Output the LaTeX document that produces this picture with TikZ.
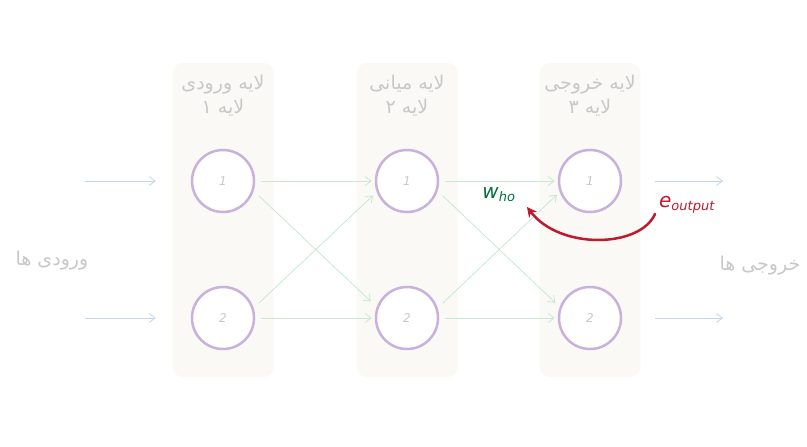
\documentclass[tikz,border=0pt]{standalone}
\usepackage{fontspec}
\newfontfamily\arabicfont[Script=Arabic]{DejaVu Sans}
\setsansfont{DejaVu Sans}
\TeXXeTstate=1
\usetikzlibrary{arrows.meta}
\definecolor{panelc}{RGB}{250,249,245}
\definecolor{circc}{RGB}{200,178,220}
\definecolor{linkc}{RGB}{200,232,212}
\definecolor{inc}{RGB}{190,215,235}
\definecolor{txtc}{RGB}{200,200,200}
\definecolor{redc}{RGB}{190,25,45}
\definecolor{grnc}{RGB}{0,110,60}
\tikzset{
  panel/.style={fill=panelc, draw=none, rounded corners=10pt, minimum width=101pt, minimum height=314pt},
  neuron/.style={circle, draw=circc, line width=2.5pt, fill=white, minimum size=62pt, inner sep=0pt, text=txtc, font=\sffamily\itshape\fontsize{12}{14}\selectfont},
  link/.style={draw=linkc, line width=0.8pt, -{Straight Barb[length=6pt,width=9pt]}},
  ioarrow/.style={draw=inc, line width=0.8pt, -{Straight Barb[length=6pt,width=9pt]}},
  fa/.style={text=txtc, font=\arabicfont\fontsize{19}{24}\selectfont, align=center, inner sep=0pt},
}
\begin{document}
\begin{tikzpicture}[x=1pt,y=-1pt]
\useasboundingbox (0,0) rectangle (807,447);
% panels
\node[panel] (p1) at (223,220) {};
\node[panel] (p2) at (407,220) {};
\node[panel] (p3) at (590,220) {};
% headers
\node[fa] (h1) at (223,96) {\beginR لایه ورودی\endR\\\beginR لایه ۱\endR};
\node[fa] (h2) at (407,96) {\beginR لایه میانی\endR\\\beginR لایه ۲\endR};
\node[fa] (h3) at (590,96) {\beginR لایه خروجی\endR\\\beginR لایه ۳\endR};
% neurons
\node[neuron] (a1) at (223,181) {1};
\node[neuron] (a2) at (223,318) {2};
\node[neuron] (b1) at (407,181) {1};
\node[neuron] (b2) at (407,318) {2};
\node[neuron] (c1) at (590,181) {1};
\node[neuron] (c2) at (590,318) {2};
% links
\draw[link, shorten <=6pt, shorten >=3pt] (a1.east) -- (b1.west);
\draw[link, shorten <=7pt, shorten >=8pt] (a1.-18) -- (b2.160);
\draw[link, shorten <=7pt, shorten >=5pt] (a2.18) -- (b1.-160);
\draw[link, shorten <=6pt, shorten >=3pt] (a2.east) -- (b2.west);
\draw[link, shorten <=6pt, shorten >=3pt] (b1.east) -- (c1.west);
\draw[link, shorten <=7pt, shorten >=6pt] (b1.-18) -- (c2.160);
\draw[link, shorten <=7pt, shorten >=4pt] (b2.18) -- (c1.-160);
\draw[link, shorten <=6pt, shorten >=3pt] (b2.east) -- (c2.west);
% inputs / outputs
\coordinate (i1) at (85,181);
\coordinate (i2) at (85,318);
\coordinate (o1) at (723,181);
\coordinate (o2) at (723,318);
\draw[ioarrow, shorten >=35pt] (i1) -- (a1);
\draw[ioarrow, shorten >=35pt] (i2) -- (a2);
\draw[ioarrow, shorten <=33pt] (c1) -- (o1);
\draw[ioarrow, shorten <=33pt] (c2) -- (o2);
\node[fa] (in) at (52,261) {\beginR ورودی ها\endR};
\node[fa] (out) at (760,266) {\beginR خروجی ها\endR};
% error labels
\node[text=grnc, font=\sffamily\itshape\fontsize{20}{22}\selectfont, inner sep=1pt] (w) at (499,195) {w\textsubscript{\fontsize{13}{14}\selectfont ho}};
\node[text=redc, font=\sffamily\itshape\fontsize{20}{22}\selectfont, inner sep=1pt] (e) at (687,205) {e\textsubscript{\fontsize{13}{14}\selectfont output}};
\draw[redc, line width=2.5pt, line cap=round, -{Stealth[length=10pt,width=10pt]}] (655,214) .. controls (640,248) and (560,250) .. (527,207);
\end{tikzpicture}
\end{document}
